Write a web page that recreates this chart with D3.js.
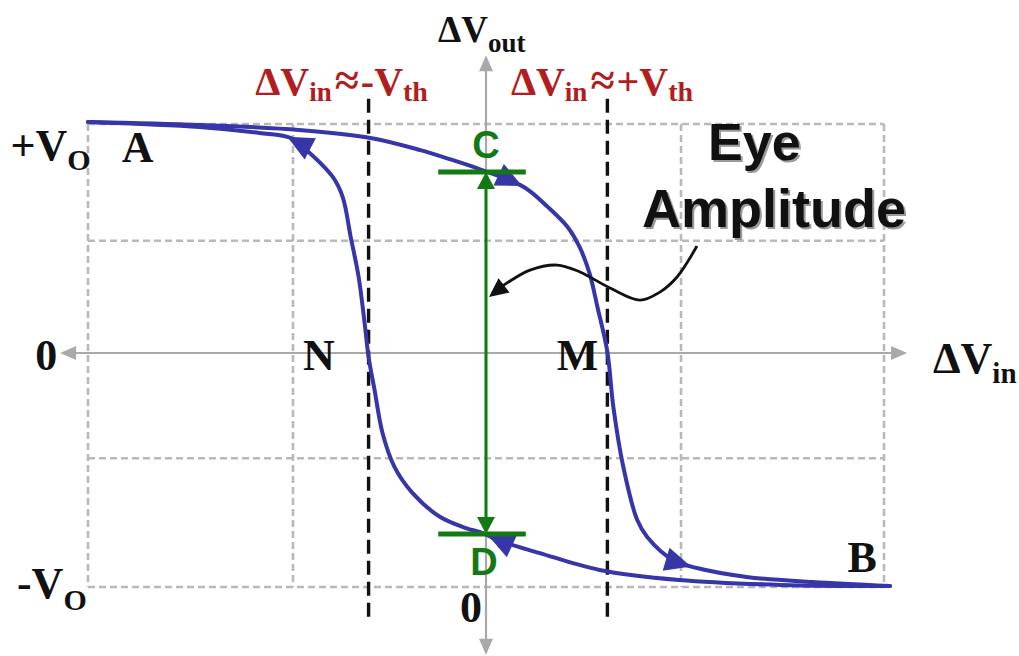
<!DOCTYPE html>
<html>
<head>
<meta charset="utf-8">
<script src="https://cdnjs.cloudflare.com/ajax/libs/d3/7.8.5/d3.min.js"></script>
<style>
  html, body { margin: 0; padding: 0; background: #fff; }
  svg { display: block; }
</style>
</head>
<body>
<svg id="chart" width="1019" height="656"></svg>
<script>
// Dashed reference grid (ΔVin and ΔVout units; ±2 / ±1 are the plot borders)
const gridX = [-2, -0.97, 0.98, 2];
const gridY = [-1, -0.45, 0.49, 1];

// Switching thresholds -Vth and +Vth on the ΔVin axis
const thresholds = [-0.59, 0.61];

// Falling branch, traversed A -> C -> M -> B
const fallX = [-2.0, -1.44, -0.94, -0.58, -0.33, -0.17, -0.02, 0.19, 0.31, 0.41, 0.47, 0.52, 0.56, 0.61, 0.64, 0.69, 0.76, 0.81, 0.94, 1.06, 1.31, 1.64, 2.03];
const fallY = [1.009, 0.996, 0.974, 0.939, 0.886, 0.843, 0.799, 0.725, 0.638, 0.550, 0.463, 0.349, 0.201, 0.004, -0.231, -0.487, -0.714, -0.786, -0.885, -0.919, -0.957, -0.979, -0.996];

// Rising branch, traversed B -> D -> N -> A
const riseX = [2.03, 1.48, 0.97, 0.57, 0.27, 0.07, -0.02, -0.10, -0.23, -0.37, -0.46, -0.52, -0.56, -0.59, -0.61, -0.64, -0.68, -0.72, -0.77, -0.92, -0.98, -1.14, -1.44, -2.0];
const riseY = [-0.996, -0.991, -0.970, -0.927, -0.855, -0.803, -0.769, -0.748, -0.701, -0.598, -0.487, -0.342, -0.158, -0.017, 0.131, 0.332, 0.507, 0.681, 0.769, 0.900, 0.939, 0.961, 0.987, 1.009];

// Direction arrows (tip positions) on each branch
const fallArrows = [[0.18, 0.726], [1.03, -0.912]];
const riseArrows = [[-1.0, 0.94], [0.01, -0.782]];

// Eye amplitude: output levels at C and D for ΔVin = 0
const eyeTop = 0.79;
const eyeBottom = -0.774;
const eyeBar = [-0.24, 0.2];

// Call-out pointer from the "Eye Amplitude" caption to the eye marker
const pointerX = [1.06, 0.96, 0.874, 0.774, 0.623, 0.472, 0.357, 0.221, 0.106, 0.015];
const pointerY = [0.467, 0.332, 0.266, 0.231, 0.284, 0.354, 0.384, 0.362, 0.306, 0.245];

// Axis extents
const axisX = [-2.14, 2.116];
const axisY = [-1.29, 1.30];

const svg = d3.select("#chart");
const x = d3.scaleLinear().domain([-2, 0, 2]).range([88, 486, 884]);
const y = d3.scaleLinear().domain([-1, 0, 1]).range([587, 353, 124]);

const serif = '"Liberation Serif","Times New Roman",serif';
const sans = '"Liberation Sans",Arial,sans-serif';
const BLUE = "#3636a8", GREEN = "#137a13", RED = "#b21e1e";

function head(g, tip, from, len, half, color) {
  const dx = tip[0] - from[0], dy = tip[1] - from[1];
  const d = Math.hypot(dx, dy) || 1;
  const ux = dx / d, uy = dy / d;
  const bx = tip[0] - ux * len, by = tip[1] - uy * len;
  const pts = [tip, [bx - uy * half, by + ux * half], [bx + uy * half, by - ux * half]];
  g.append("polygon").attr("points", pts.map(p => p.join(",")).join(" ")).attr("fill", color);
}

// grid
const grid = svg.append("g").attr("stroke", "#b9b9b9").attr("stroke-width", 2.6)
  .attr("stroke-dasharray", "7,4").attr("fill", "none");
grid.selectAll("line.v").data(gridX).join("line").attr("class", "v")
  .attr("x1", d => x(d)).attr("x2", d => x(d)).attr("y1", y(1)).attr("y2", y(-1));
grid.selectAll("line.h").data(gridY).join("line").attr("class", "h")
  .attr("y1", d => y(d)).attr("y2", d => y(d)).attr("x1", x(-2)).attr("x2", x(2));

// axes with arrowheads at both ends
const ax = svg.append("g");
const AX = "#a9a9a9";
ax.append("line").attr("x1", x(axisX[0]) + 6).attr("x2", x(axisX[1]) - 6).attr("y1", y(0)).attr("y2", y(0))
  .attr("stroke", AX).attr("stroke-width", 2.2);
ax.append("line").attr("x1", x(0)).attr("x2", x(0)).attr("y1", y(axisY[1]) + 6).attr("y2", y(axisY[0]) - 6)
  .attr("stroke", AX).attr("stroke-width", 2.2);
head(ax, [x(axisX[0]), y(0)], [x(0), y(0)], 16, 7, AX);
head(ax, [x(axisX[1]), y(0)], [x(0), y(0)], 16, 7, AX);
head(ax, [x(0), y(axisY[1])], [x(0), y(0)], 16, 7, AX);
head(ax, [x(0), y(axisY[0])], [x(0), y(0)], 16, 7, AX);

// threshold markers
svg.append("g").selectAll("line").data(thresholds).join("line")
  .attr("x1", d => x(d)).attr("x2", d => x(d)).attr("y1", y(1.11)).attr("y2", y(-1.13))
  .attr("stroke", "#111").attr("stroke-width", 3.4).attr("stroke-dasharray", "14,7");

// hysteresis branches
const line = d3.line().x(d => x(d[0])).y(d => y(d[1])).curve(d3.curveCatmullRom.alpha(0.5));
const curves = svg.append("g");
function branch(xs, ys, arrows) {
  const pts = xs.map((v, i) => [v, ys[i]]);
  const p = curves.append("path").attr("d", line(pts)).attr("fill", "none")
    .attr("stroke", BLUE).attr("stroke-width", 4).attr("stroke-linecap", "round");
  const node = p.node(), total = node.getTotalLength();
  arrows.forEach(a => {
    const tx = x(a[0]), ty = y(a[1]);
    let best = 0, bd = Infinity;
    for (let l = 0; l <= total; l += 0.5) {
      const q = node.getPointAtLength(l);
      const dd = (q.x - tx) ** 2 + (q.y - ty) ** 2;
      if (dd < bd) { bd = dd; best = l; }
    }
    const tip = node.getPointAtLength(best), back = node.getPointAtLength(Math.max(0, best - 12));
    head(curves, [tip.x, tip.y], [back.x, back.y], 26, 12, BLUE);
  });
}
branch(fallX, fallY, fallArrows);
branch(riseX, riseY, riseArrows);

// eye amplitude marker
const eye = svg.append("g");
eye.append("line").attr("x1", x(0)).attr("x2", x(0)).attr("y1", y(eyeTop) + 10).attr("y2", y(eyeBottom) - 10)
  .attr("stroke", GREEN).attr("stroke-width", 3);
eye.selectAll("line.bar").data([eyeTop, eyeBottom]).join("line").attr("class", "bar")
  .attr("x1", x(eyeBar[0])).attr("x2", x(eyeBar[1])).attr("y1", d => y(d)).attr("y2", d => y(d))
  .attr("stroke", GREEN).attr("stroke-width", 5);
head(eye, [x(0), y(eyeTop)], [x(0), y(0)], 17, 9, GREEN);
head(eye, [x(0), y(eyeBottom)], [x(0), y(0)], 17, 9, GREEN);

// pointer
const pp = pointerX.map((v, i) => [v, pointerY[i]]);
svg.append("path").attr("d", line(pp.slice(0, -1).concat([[pp[pp.length - 1][0] + 0.04, pp[pp.length - 1][1] + 0.03]])))
  .attr("fill", "none").attr("stroke", "#111").attr("stroke-width", 2.8);
head(svg, [x(pp[pp.length - 1][0]), y(pp[pp.length - 1][1])], [x(pp[pp.length - 2][0]), y(pp[pp.length - 2][1])], 19, 9, "#111");

// labels
function rich(px, py, parts, opt) {
  const o = opt || {};
  const t = svg.append("text").attr("x", px).attr("y", py)
    .attr("font-family", o.family || serif).attr("font-weight", "bold")
    .attr("fill", o.fill || "#111").attr("text-anchor", o.anchor || "start");
  parts.forEach(p => t.append("tspan").attr("font-size", p.s).attr("dy", p.dy || 0).attr("dx", p.dx || 0).text(p.t));
  return t;
}
const lbl = [["A", -1.75, 0.834], ["B", 1.89, -0.936], ["N", -0.84, -0.073], ["M", 0.46, -0.073], ["0", -2.21, -0.073], ["0", -0.075, -1.15]];
lbl.forEach(d => rich(x(d[1]), y(d[2]), [{ t: d[0], s: 44 }], { anchor: "middle" }));

rich(x(-2.39), y(0.843), [{ t: "+V", s: 44 }, { t: "O", s: 30, dy: 10 }]);
rich(x(-2.357), y(-1.047), [{ t: "-V", s: 44 }, { t: "O", s: 30, dy: 12 }]);
rich(x(2.246), y(-0.085), [{ t: "ΔV", s: 44 }, { t: "in", s: 29, dy: 10 }]);
rich(x(-0.241), y(1.358), [{ t: "ΔV", s: 37 }, { t: "out", s: 27, dy: 10 }]);
rich(x(-1.16), y(1.127), [{ t: "ΔV", s: 40 }, { t: "in", s: 27, dy: 6 }, { t: "≈", s: 44, dy: -6, dx: 3 }, { t: "-V", s: 40, dx: 2 }, { t: "th", s: 28, dy: 6 }], { fill: RED });
rich(x(0.125), y(1.127), [{ t: "ΔV", s: 40 }, { t: "in", s: 27, dy: 6 }, { t: "≈", s: 44, dy: -6, dx: 3 }, { t: "+V", s: 40, dx: 2 }, { t: "th", s: 28, dy: 6 }], { fill: RED });

rich(x(0), y(0.852), [{ t: "C", s: 38 }], { family: sans, fill: GREEN, anchor: "middle" });
rich(x(-0.01), y(-0.949), [{ t: "D", s: 38 }], { family: sans, fill: GREEN, anchor: "middle" });

[[0.8, 2, "#9a9a9a"], [0, 0, "#111"]].forEach(s => {
  rich(x(1.116) + s[1], y(0.843) + s[1], [{ t: "Eye", s: 52 }], { family: sans, fill: s[2] });
  rich(x(0.784) + s[1], y(0.550) + s[1], [{ t: "Amplitude", s: 54 }], { family: sans, fill: s[2] });
});
</script>
</body>
</html>
